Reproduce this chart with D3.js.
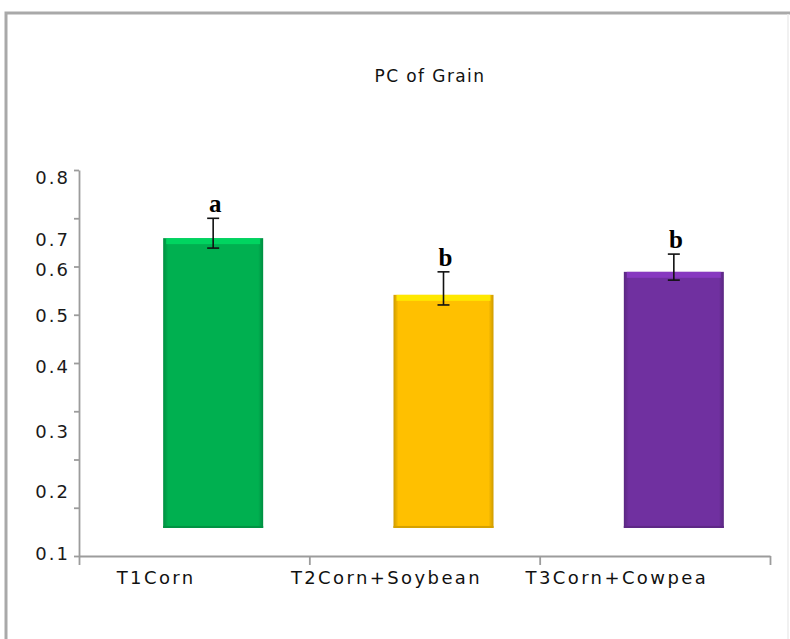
<!DOCTYPE html>
<html>
<head>
<meta charset="utf-8">
<script src="https://cdn.jsdelivr.net/npm/d3@7"></script>
<style>
  body { margin: 0; background: #fff; }
  svg { display: block; }
</style>
</head>
<body>
<svg id="chart" width="790" height="639"></svg>
<script>
// Chart data
const categories   = ["T1Corn", "T2Corn+Soybean", "T3Corn+Cowpea"];
const meanValues   = [0.703, 0.546, 0.596];
const errorLow     = [0.673, 0.524, 0.578];
const errorHigh    = [0.735, 0.596, 0.653];
const groupLetters = ["a", "b", "b"];
const barColors    = ["#00b050", "#ffc000", "#7030a0"];
const tickLabels   = [0.1, 0.2, 0.3, 0.4, 0.5, 0.6, 0.7, 0.8];
const barBase      = 0.142;
const minorTickCount = 8;

const svg = d3.select("#chart");

// Outer frame
svg.append("path")
  .attr("d", "M6,645 L6,13 L792,13")
  .attr("fill", "none")
  .attr("stroke", "#a9a9a9")
  .attr("stroke-width", 3);
svg.append("line")
  .attr("x1", 788).attr("x2", 788).attr("y1", 14).attr("y2", 639)
  .attr("stroke", "#ececec").attr("stroke-width", 1.5);

// Title
svg.append("text")
  .attr("x", 430).attr("y", 82)
  .attr("text-anchor", "middle")
  .attr("font-family", "DejaVu Sans, sans-serif")
  .attr("font-size", 17)
  .attr("letter-spacing", 1.4)
  .attr("fill", "#111")
  .text("PC of Grain");

// Scales
const plotLeft = 79, plotRight = 770, plotBottom = 556, plotTop = 170;

// value scale (piecewise, one segment per labelled step)
const y = d3.scaleLinear()
  .domain(tickLabels)
  .range([554, 492, 432, 367, 316, 270, 240, 178]);

// evenly spaced minor tick marks along the value axis
const yTicks = d3.scaleLinear().domain([0, minorTickCount]).range([plotBottom, plotTop]);

const x = d3.scaleBand()
  .domain(categories)
  .range([plotLeft, plotRight])
  .paddingInner(0).paddingOuter(0);

const xEdges = d3.scaleLinear().domain([0, categories.length]).range([plotLeft, plotRight]);

const axisColor = "#9c9c9c";

// Y axis line and tick marks
const yAxisG = svg.append("g")
  .attr("transform", `translate(${plotLeft},0)`)
  .call(d3.axisLeft(yTicks).tickValues(d3.range(minorTickCount + 1)).tickFormat("").tickSize(5).tickSizeOuter(0));
yAxisG.selectAll("path, line").attr("stroke", axisColor).attr("stroke-width", 1.8);

// Y tick labels
const yLabG = svg.append("g")
  .attr("transform", `translate(${plotLeft},0)`)
  .call(d3.axisLeft(y).tickValues(tickLabels).tickFormat(d3.format(".1f")).tickSize(0).tickPadding(9));
yLabG.select(".domain").remove();
yLabG.selectAll("text")
  .attr("font-family", "DejaVu Sans, sans-serif")
  .attr("font-size", 18)
  .attr("letter-spacing", 2)
  .attr("fill", "#1a1a1a");

// X axis with boundary ticks
const xAxisG = svg.append("g")
  .attr("transform", `translate(0,${plotBottom})`)
  .call(d3.axisBottom(xEdges).tickValues(d3.range(categories.length + 1)).tickFormat("").tickSize(9).tickSizeOuter(0));
xAxisG.selectAll("path, line").attr("stroke", axisColor).attr("stroke-width", 1.8);

// X category labels
svg.append("g").selectAll("text")
  .data(categories)
  .join("text")
  .attr("x", d => x(d) + x.bandwidth() / 2 - 38)
  .attr("y", 584)
  .attr("text-anchor", "middle")
  .attr("font-family", "DejaVu Sans, sans-serif")
  .attr("font-size", 18)
  .attr("letter-spacing", 2.4)
  .attr("fill", "#111")
  .text(d => d);

// Bar gradients (bevelled look)
const defs = svg.append("defs");
barColors.forEach((c, i) => {
  const g = defs.append("linearGradient").attr("id", "side" + i)
    .attr("x1", 0).attr("x2", 1).attr("y1", 0).attr("y2", 0);
  const dark = d3.color(c).darker(0.6).formatHex();
  g.append("stop").attr("offset", "0%").attr("stop-color", dark);
  g.append("stop").attr("offset", "5%").attr("stop-color", c);
  g.append("stop").attr("offset", "95%").attr("stop-color", c);
  g.append("stop").attr("offset", "100%").attr("stop-color", dark);
});

const barW = 100;
const barCenter = i => x(categories[i]) + x.bandwidth() / 2 + 19;

const bars = svg.append("g").selectAll("g")
  .data(meanValues)
  .join("g");

bars.append("rect")
  .attr("x", (d, i) => barCenter(i) - barW / 2)
  .attr("y", d => y(d))
  .attr("width", barW)
  .attr("height", d => y(barBase) - y(d))
  .attr("fill", (d, i) => `url(#side${i})`);

// top highlight
bars.append("rect")
  .attr("x", (d, i) => barCenter(i) - barW / 2 + 3)
  .attr("y", d => y(d))
  .attr("width", barW - 6)
  .attr("height", 6)
  .attr("fill", (d, i) => d3.color(barColors[i]).brighter(0.6).formatHex())
  .attr("opacity", 0.85);

// bottom edge
bars.append("rect")
  .attr("x", (d, i) => barCenter(i) - barW / 2)
  .attr("y", y(barBase) - 2)
  .attr("width", barW)
  .attr("height", 2)
  .attr("fill", (d, i) => d3.color(barColors[i]).darker(0.5).formatHex());

// Error bars
const capW = 12;
const err = svg.append("g").attr("stroke", "#111").attr("stroke-width", 1.6);
meanValues.forEach((v, i) => {
  const cx = barCenter(i);
  err.append("line").attr("x1", cx).attr("x2", cx).attr("y1", y(errorLow[i])).attr("y2", y(errorHigh[i]));
  err.append("line").attr("x1", cx - capW / 2).attr("x2", cx + capW / 2).attr("y1", y(errorLow[i])).attr("y2", y(errorLow[i]));
  err.append("line").attr("x1", cx - capW / 2).attr("x2", cx + capW / 2).attr("y1", y(errorHigh[i])).attr("y2", y(errorHigh[i]));
});

// Significance letters
svg.append("g").selectAll("text")
  .data(groupLetters)
  .join("text")
  .attr("x", (d, i) => barCenter(i) + 2)
  .attr("y", (d, i) => y(errorHigh[i]) - 6)
  .attr("text-anchor", "middle")
  .attr("font-family", "Liberation Serif, serif")
  .attr("font-weight", "bold")
  .attr("font-size", 25)
  .attr("fill", "#000")
  .text(d => d);
</script>
</body>
</html>
